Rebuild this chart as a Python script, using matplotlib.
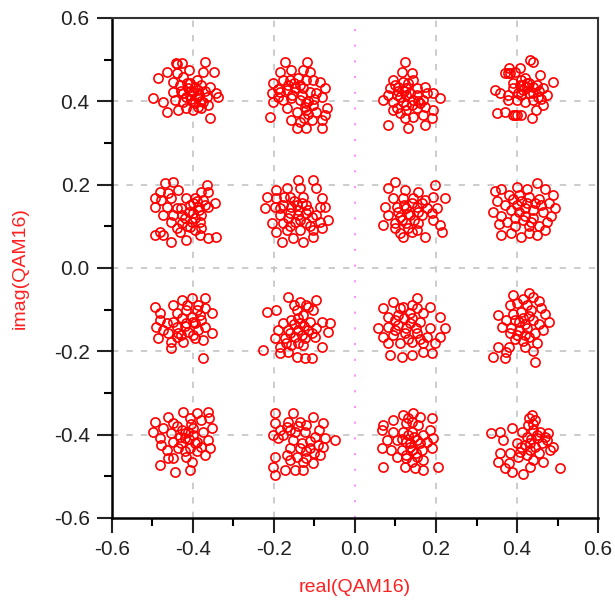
import matplotlib.pyplot as plt
import numpy as np

plt.rcParams['font.family'] = ['Liberation Sans', 'DejaVu Sans']
plt.rcParams['axes.unicode_minus'] = False

# QAM16 constellation samples (real, imag)
r1c1 = [(-0.486, 0.455), (-0.465, 0.471), (-0.442, 0.491), (-0.426, 0.491), (-0.371, 0.495), (-0.348, 0.471),
        (-0.375, 0.471), (-0.409, 0.475), (-0.440, 0.467), (-0.424, 0.459), (-0.449, 0.447), (-0.432, 0.439),
        (-0.408, 0.443), (-0.391, 0.451), (-0.379, 0.439), (-0.358, 0.435), (-0.342, 0.419), (-0.338, 0.411),
        (-0.498, 0.407), (-0.473, 0.399), (-0.445, 0.403), (-0.424, 0.419), (-0.408, 0.415), (-0.391, 0.411),
        (-0.366, 0.411), (-0.465, 0.375), (-0.436, 0.379), (-0.416, 0.383), (-0.399, 0.379), (-0.379, 0.383),
        (-0.362, 0.391), (-0.357, 0.361), (-0.424, 0.399), (-0.399, 0.399), (-0.387, 0.427), (-0.449, 0.423),
        (-0.412, 0.431), (-0.375, 0.399), (-0.399, 0.423), (-0.416, 0.411), (-0.387, 0.387),
        (-0.395, 0.435), (-0.405, 0.425), (-0.385, 0.415), (-0.415, 0.445), (-0.430, 0.425), (-0.370, 0.425),
        (-0.395, 0.395), (-0.440, 0.490), (-0.380, 0.400), (-0.405, 0.405)]
r1c2 = [(-0.173, 0.495), (-0.119, 0.495), (-0.185, 0.471), (-0.157, 0.475), (-0.128, 0.475), (-0.111, 0.471),
        (-0.202, 0.443), (-0.177, 0.451), (-0.161, 0.451), (-0.140, 0.455), (-0.120, 0.451), (-0.103, 0.451),
        (-0.087, 0.447), (-0.074, 0.431), (-0.206, 0.419), (-0.185, 0.423), (-0.169, 0.427), (-0.148, 0.431),
        (-0.128, 0.431), (-0.111, 0.423), (-0.095, 0.419), (-0.082, 0.411), (-0.202, 0.399), (-0.177, 0.403),
        (-0.157, 0.407), (-0.136, 0.403), (-0.120, 0.395), (-0.103, 0.391), (-0.070, 0.383), (-0.169, 0.383),
        (-0.144, 0.375), (-0.120, 0.379), (-0.095, 0.375), (-0.074, 0.367), (-0.210, 0.363), (-0.157, 0.355),
        (-0.136, 0.351), (-0.107, 0.355), (-0.082, 0.355), (-0.144, 0.335), (-0.120, 0.335), (-0.082, 0.335),
        (-0.189, 0.411), (-0.124, 0.387),
        (-0.165, 0.440), (-0.150, 0.445), (-0.135, 0.440), (-0.190, 0.430), (-0.155, 0.415), (-0.130, 0.415),
        (-0.115, 0.400), (-0.100, 0.405), (-0.125, 0.360), (-0.115, 0.370)]
r1c3 = [(0.123, 0.495), (0.115, 0.471), (0.140, 0.467), (0.095, 0.451), (0.119, 0.447), (0.144, 0.451),
        (0.086, 0.431), (0.107, 0.435), (0.127, 0.431), (0.152, 0.431), (0.173, 0.435), (0.082, 0.415),
        (0.103, 0.415), (0.127, 0.415), (0.152, 0.415), (0.177, 0.419), (0.193, 0.419), (0.070, 0.403),
        (0.095, 0.399), (0.119, 0.399), (0.144, 0.403), (0.169, 0.403), (0.210, 0.407), (0.103, 0.383),
        (0.127, 0.379), (0.152, 0.383), (0.173, 0.387), (0.193, 0.379), (0.123, 0.359), (0.144, 0.363),
        (0.169, 0.367), (0.189, 0.359), (0.082, 0.343), (0.132, 0.335), (0.173, 0.343), (0.111, 0.371),
        (0.095, 0.379),
        (0.120, 0.425), (0.135, 0.420), (0.110, 0.410), (0.140, 0.390), (0.160, 0.395), (0.125, 0.390),
        (0.105, 0.425), (0.130, 0.445), (0.100, 0.440), (0.155, 0.400)]
r1c4 = [(0.432, 0.499), (0.440, 0.495), (0.407, 0.479), (0.370, 0.467), (0.383, 0.467), (0.395, 0.471),
        (0.457, 0.463), (0.490, 0.447), (0.346, 0.427), (0.358, 0.419), (0.378, 0.415), (0.391, 0.431),
        (0.407, 0.439), (0.424, 0.443), (0.440, 0.435), (0.465, 0.431), (0.473, 0.415), (0.453, 0.411),
        (0.399, 0.403), (0.420, 0.399), (0.440, 0.403), (0.465, 0.391), (0.350, 0.371), (0.370, 0.375),
        (0.395, 0.367), (0.411, 0.367), (0.436, 0.359), (0.448, 0.379), (0.415, 0.427), (0.403, 0.419),
        (0.378, 0.403), (0.377, 0.467), (0.401, 0.367), (0.389, 0.367), (0.420, 0.455), (0.430, 0.420),
        (0.410, 0.450),
        (0.425, 0.435), (0.430, 0.445), (0.415, 0.440), (0.440, 0.420), (0.455, 0.425), (0.460, 0.405),
        (0.390, 0.445), (0.380, 0.480), (0.450, 0.440), (0.410, 0.415)]

r2c1 = [(-0.469, 0.203), (-0.449, 0.207), (-0.366, 0.199), (-0.482, 0.183), (-0.461, 0.179), (-0.436, 0.187),
        (-0.379, 0.183), (-0.362, 0.183), (-0.494, 0.167), (-0.478, 0.163), (-0.453, 0.167), (-0.416, 0.167),
        (-0.395, 0.167), (-0.375, 0.163), (-0.346, 0.155), (-0.494, 0.147), (-0.465, 0.147), (-0.440, 0.143),
        (-0.408, 0.151), (-0.387, 0.147), (-0.362, 0.147), (-0.473, 0.127), (-0.449, 0.127), (-0.428, 0.127),
        (-0.399, 0.131), (-0.379, 0.127), (-0.453, 0.111), (-0.428, 0.107), (-0.403, 0.111), (-0.383, 0.111),
        (-0.440, 0.095), (-0.408, 0.099), (-0.379, 0.095), (-0.494, 0.079), (-0.473, 0.079), (-0.453, 0.063),
        (-0.416, 0.067), (-0.383, 0.079), (-0.362, 0.071), (-0.342, 0.075), (-0.432, 0.087), (-0.482, 0.087),
        (-0.400, 0.155), (-0.390, 0.160), (-0.385, 0.140), (-0.410, 0.135), (-0.420, 0.120), (-0.395, 0.120),
        (-0.370, 0.150), (-0.430, 0.145), (-0.415, 0.100), (-0.395, 0.090)]
r2c2 = [(-0.140, 0.211), (-0.103, 0.211), (-0.194, 0.187), (-0.169, 0.191), (-0.136, 0.191), (-0.095, 0.191),
        (-0.218, 0.171), (-0.194, 0.167), (-0.161, 0.171), (-0.128, 0.171), (-0.082, 0.167), (-0.222, 0.143),
        (-0.198, 0.147), (-0.177, 0.151), (-0.144, 0.151), (-0.120, 0.151), (-0.087, 0.147), (-0.074, 0.147),
        (-0.185, 0.127), (-0.161, 0.131), (-0.140, 0.127), (-0.120, 0.131), (-0.095, 0.127), (-0.206, 0.107),
        (-0.177, 0.107), (-0.148, 0.111), (-0.120, 0.107), (-0.087, 0.111), (-0.066, 0.115), (-0.194, 0.087),
        (-0.169, 0.091), (-0.136, 0.091), (-0.103, 0.091), (-0.082, 0.095), (-0.181, 0.063), (-0.152, 0.071),
        (-0.128, 0.063), (-0.103, 0.075), (-0.157, 0.147), (-0.107, 0.123),
        (-0.150, 0.160), (-0.130, 0.155), (-0.165, 0.120), (-0.140, 0.140), (-0.115, 0.140), (-0.160, 0.100),
        (-0.110, 0.100), (-0.185, 0.145), (-0.135, 0.115), (-0.175, 0.170)]
r2c3 = [(0.099, 0.207), (0.197, 0.199), (0.082, 0.191), (0.123, 0.187), (0.156, 0.183), (0.193, 0.171),
        (0.222, 0.167), (0.095, 0.167), (0.119, 0.167), (0.144, 0.167), (0.173, 0.163), (0.074, 0.147),
        (0.103, 0.147), (0.127, 0.143), (0.152, 0.147), (0.177, 0.143), (0.202, 0.143), (0.082, 0.127),
        (0.111, 0.123), (0.136, 0.127), (0.165, 0.127), (0.189, 0.131), (0.070, 0.103), (0.099, 0.107),
        (0.127, 0.107), (0.156, 0.107), (0.210, 0.103), (0.111, 0.083), (0.140, 0.087), (0.173, 0.075),
        (0.214, 0.087), (0.119, 0.075), (0.152, 0.091), (0.193, 0.115),
        (0.120, 0.150), (0.140, 0.155), (0.105, 0.135), (0.130, 0.130), (0.155, 0.135), (0.115, 0.115),
        (0.145, 0.115), (0.130, 0.095), (0.100, 0.095), (0.165, 0.155)]
r2c4 = [(0.345, 0.185), (0.360, 0.190), (0.380, 0.175), (0.400, 0.195), (0.425, 0.190), (0.450, 0.205),
        (0.470, 0.190), (0.490, 0.175), (0.350, 0.160), (0.370, 0.150), (0.390, 0.165), (0.410, 0.160),
        (0.430, 0.170), (0.455, 0.165), (0.480, 0.155), (0.495, 0.145), (0.340, 0.135), (0.360, 0.125),
        (0.385, 0.140), (0.405, 0.135), (0.420, 0.145), (0.440, 0.140), (0.465, 0.135), (0.485, 0.125),
        (0.355, 0.105), (0.375, 0.110), (0.395, 0.100), (0.415, 0.115), (0.435, 0.110), (0.455, 0.100),
        (0.475, 0.110), (0.360, 0.080), (0.385, 0.085), (0.410, 0.075), (0.430, 0.085), (0.450, 0.080),
        (0.470, 0.090), (0.420, 0.125), (0.400, 0.150), (0.445, 0.155),
        (0.425, 0.155), (0.440, 0.120), (0.395, 0.120), (0.460, 0.150), (0.405, 0.175), (0.430, 0.100)]

r3c1 = [(-0.494, -0.093), (-0.449, -0.089), (-0.428, -0.077), (-0.403, -0.073), (-0.371, -0.073), (-0.482, -0.109),
        (-0.440, -0.109), (-0.416, -0.101), (-0.387, -0.089), (-0.383, -0.113), (-0.354, -0.109), (-0.490, -0.141),
        (-0.465, -0.133), (-0.440, -0.141), (-0.416, -0.133), (-0.395, -0.133), (-0.371, -0.141), (-0.354, -0.157),
        (-0.486, -0.169), (-0.461, -0.157), (-0.436, -0.157), (-0.412, -0.153), (-0.387, -0.149), (-0.453, -0.177),
        (-0.424, -0.177), (-0.395, -0.169), (-0.375, -0.173), (-0.453, -0.193), (-0.375, -0.217), (-0.473, -0.149),
        (-0.428, -0.121), (-0.403, -0.117), (-0.482, -0.125),
        (-0.400, -0.130), (-0.420, -0.140), (-0.380, -0.125), (-0.430, -0.160), (-0.400, -0.160), (-0.390, -0.100),
        (-0.450, -0.130), (-0.415, -0.090), (-0.370, -0.095), (-0.440, -0.165)]
r3c2 = [(-0.165, -0.069), (-0.095, -0.077), (-0.218, -0.105), (-0.194, -0.101), (-0.136, -0.081), (-0.115, -0.093),
        (-0.144, -0.101), (-0.103, -0.101), (-0.128, -0.113), (-0.157, -0.125), (-0.177, -0.133), (-0.136, -0.133),
        (-0.111, -0.129), (-0.082, -0.129), (-0.062, -0.133), (-0.189, -0.149), (-0.165, -0.149), (-0.140, -0.149),
        (-0.115, -0.149), (-0.095, -0.145), (-0.066, -0.153), (-0.198, -0.169), (-0.173, -0.169), (-0.148, -0.165),
        (-0.124, -0.169), (-0.099, -0.165), (-0.185, -0.189), (-0.157, -0.185), (-0.128, -0.185), (-0.082, -0.189),
        (-0.226, -0.197), (-0.185, -0.205), (-0.144, -0.213), (-0.124, -0.217), (-0.107, -0.217), (-0.165, -0.201),
        (-0.140, -0.120), (-0.125, -0.140), (-0.150, -0.135), (-0.160, -0.155), (-0.130, -0.160), (-0.105, -0.155),
        (-0.170, -0.180), (-0.140, -0.180), (-0.150, -0.090), (-0.120, -0.090)]
r3c3 = [(0.095, -0.081), (0.152, -0.073), (0.070, -0.097), (0.119, -0.093), (0.152, -0.097), (0.185, -0.093),
        (0.082, -0.117), (0.107, -0.113), (0.136, -0.109), (0.169, -0.109), (0.210, -0.117), (0.057, -0.145),
        (0.082, -0.141), (0.107, -0.137), (0.136, -0.133), (0.160, -0.129), (0.185, -0.145), (0.222, -0.145),
        (0.070, -0.165), (0.095, -0.161), (0.123, -0.157), (0.152, -0.157), (0.177, -0.165), (0.210, -0.165),
        (0.082, -0.181), (0.111, -0.181), (0.140, -0.177), (0.169, -0.181), (0.197, -0.181), (0.086, -0.209),
        (0.115, -0.213), (0.140, -0.209), (0.169, -0.201), (0.189, -0.205),
        (0.120, -0.120), (0.140, -0.120), (0.100, -0.125), (0.125, -0.145), (0.150, -0.145), (0.100, -0.150),
        (0.130, -0.170), (0.160, -0.170), (0.110, -0.095), (0.140, -0.090)]
r3c4 = [(0.430, -0.060), (0.415, -0.075), (0.440, -0.070), (0.455, -0.080), (0.400, -0.085), (0.425, -0.090),
        (0.391, -0.065), (0.383, -0.089), (0.410, -0.105), (0.435, -0.100), (0.460, -0.095), (0.470, -0.110),
        (0.354, -0.113), (0.374, -0.125), (0.395, -0.125), (0.415, -0.120), (0.440, -0.125), (0.455, -0.135),
        (0.480, -0.130), (0.362, -0.141), (0.385, -0.145), (0.405, -0.150), (0.425, -0.145), (0.445, -0.155),
        (0.465, -0.150), (0.383, -0.157), (0.395, -0.170), (0.415, -0.175), (0.430, -0.165), (0.450, -0.180),
        (0.440, -0.200), (0.445, -0.225), (0.354, -0.189), (0.341, -0.213), (0.374, -0.201), (0.380, -0.190),
        (0.370, -0.215), (0.420, -0.190),
        (0.420, -0.135), (0.405, -0.130), (0.430, -0.115), (0.400, -0.160), (0.420, -0.160), (0.390, -0.110)]

r4c1 = [(-0.494, -0.369), (-0.461, -0.357), (-0.424, -0.345), (-0.391, -0.349), (-0.362, -0.345), (-0.498, -0.393),
        (-0.473, -0.385), (-0.449, -0.373), (-0.408, -0.361), (-0.379, -0.365), (-0.354, -0.385), (-0.482, -0.409),
        (-0.453, -0.397), (-0.428, -0.389), (-0.399, -0.385), (-0.375, -0.393), (-0.478, -0.425), (-0.449, -0.417),
        (-0.420, -0.409), (-0.391, -0.417), (-0.362, -0.413), (-0.465, -0.437), (-0.436, -0.433), (-0.408, -0.433),
        (-0.379, -0.429), (-0.358, -0.433), (-0.461, -0.457), (-0.416, -0.453), (-0.371, -0.449), (-0.482, -0.473),
        (-0.445, -0.490), (-0.408, -0.485), (-0.403, -0.465), (-0.449, -0.457), (-0.432, -0.405), (-0.412, -0.393),
        (-0.410, -0.410), (-0.400, -0.400), (-0.420, -0.395), (-0.395, -0.420), (-0.405, -0.375), (-0.440, -0.380),
        (-0.420, -0.440), (-0.390, -0.440), (-0.430, -0.420), (-0.360, -0.360)]
r4c2 = [(-0.198, -0.349), (-0.152, -0.349), (-0.103, -0.357), (-0.198, -0.373), (-0.169, -0.381), (-0.136, -0.369),
        (-0.120, -0.377), (-0.078, -0.373), (-0.202, -0.401), (-0.177, -0.401), (-0.148, -0.393), (-0.124, -0.393),
        (-0.099, -0.405), (-0.074, -0.409), (-0.050, -0.413), (-0.189, -0.409), (-0.091, -0.425), (-0.161, -0.433),
        (-0.136, -0.433), (-0.111, -0.433), (-0.078, -0.429), (-0.169, -0.449), (-0.144, -0.453), (-0.120, -0.457),
        (-0.087, -0.449), (-0.198, -0.453), (-0.202, -0.477), (-0.173, -0.485), (-0.148, -0.485), (-0.128, -0.485),
        (-0.103, -0.469), (-0.198, -0.497), (-0.128, -0.465), (-0.152, -0.413),
        (-0.160, -0.390), (-0.140, -0.380), (-0.165, -0.370), (-0.130, -0.420), (-0.110, -0.415), (-0.120, -0.440),
        (-0.100, -0.445), (-0.160, -0.460), (-0.185, -0.390), (-0.090, -0.390)]
r4c3 = [(0.119, -0.353), (0.144, -0.349), (0.160, -0.357), (0.189, -0.361), (0.095, -0.365), (0.070, -0.377),
        (0.127, -0.373), (0.156, -0.377), (0.185, -0.389), (0.066, -0.389), (0.095, -0.393), (0.119, -0.393),
        (0.140, -0.393), (0.169, -0.401), (0.193, -0.409), (0.078, -0.413), (0.103, -0.413), (0.127, -0.417),
        (0.152, -0.413), (0.177, -0.417), (0.066, -0.433), (0.090, -0.437), (0.115, -0.437), (0.140, -0.437),
        (0.165, -0.437), (0.189, -0.433), (0.103, -0.453), (0.127, -0.457), (0.152, -0.453), (0.169, -0.461),
        (0.070, -0.477), (0.123, -0.477), (0.148, -0.481), (0.169, -0.485), (0.206, -0.477), (0.136, -0.429),
        (0.130, -0.360), (0.140, -0.370), (0.130, -0.400), (0.145, -0.405), (0.160, -0.420), (0.135, -0.420),
        (0.150, -0.445), (0.115, -0.410), (0.125, -0.450), (0.140, -0.465)]
r4c4 = [(0.436, -0.353), (0.444, -0.365), (0.428, -0.377), (0.440, -0.389), (0.457, -0.393), (0.477, -0.397),
        (0.337, -0.397), (0.358, -0.393), (0.387, -0.385), (0.412, -0.393), (0.366, -0.413), (0.424, -0.405),
        (0.449, -0.409), (0.473, -0.413), (0.399, -0.421), (0.432, -0.421), (0.461, -0.421), (0.490, -0.429),
        (0.358, -0.445), (0.383, -0.445), (0.407, -0.441), (0.432, -0.437), (0.482, -0.437), (0.354, -0.465),
        (0.379, -0.469), (0.440, -0.461), (0.465, -0.465), (0.432, -0.477), (0.387, -0.489), (0.416, -0.495),
        (0.506, -0.481), (0.403, -0.453), (0.370, -0.481),
        (0.440, -0.375), (0.450, -0.400), (0.435, -0.410), (0.420, -0.425), (0.445, -0.430), (0.470, -0.405),
        (0.410, -0.430), (0.455, -0.445), (0.425, -0.450), (0.430, -0.360)]

clusters = [r1c1, r1c2, r1c3, r1c4, r2c1, r2c2, r2c3, r2c4,
            r3c1, r3c2, r3c3, r3c4, r4c1, r4c2, r4c3, r4c4]
pts = np.array([p for c in clusters for p in c])

ticks = [-0.6, -0.4, -0.2, 0.0, 0.2, 0.4, 0.6]
tick_labels = ["-0.6", "-0.4", "-0.2", "0.0", "0.2", "0.4", "0.6"]

fig = plt.figure(figsize=(6.15, 6.04), dpi=100)
ax = fig.add_axes([0.182, 0.1424, 0.7904, 0.8278])

# grid: dashed grey, with magenta dotted line at real = 0
for v in [-0.4, -0.2, 0.2, 0.4]:
    ax.axvline(v, color='#c8c8c8', ls=(0, (3.5, 4.5)), lw=1.3, zorder=0)
for v in [-0.4, -0.2, 0.0, 0.2, 0.4]:
    ax.axhline(v, color='#c8c8c8', ls=(0, (3.5, 4.5)), lw=1.3, zorder=0)
ax.axvline(0.0, color='#ff88ff', ls=(0, (1.2, 7.5)), lw=1.3, zorder=0)

ax.plot(pts[:, 0], pts[:, 1], 'o', ms=6.6, mfc='none', mec='#ff0000', mew=1.2)

ax.set_xlim(-0.6, 0.6)
ax.set_ylim(-0.6, 0.6)
ax.set_xticks(ticks)
ax.set_xticklabels(tick_labels)
ax.set_yticks(ticks)
ax.set_yticklabels(tick_labels)
ax.set_xticks(np.arange(-0.5, 0.6, 0.2), minor=True)
ax.set_yticks(np.arange(-0.5, 0.6, 0.2), minor=True)
ax.tick_params(which='major', direction='out', length=11, width=1.5, labelsize=15,
               colors='#222222', pad=5)
ax.tick_params(which='minor', direction='out', length=5.5, width=1.5)
for s in ['left', 'bottom']:
    ax.spines[s].set_linewidth(1.8)
for s in ['top', 'right']:
    ax.spines[s].set_linewidth(1.5)
    ax.spines[s].set_color('#333333')

ax.set_xlabel("real(QAM16)", color='#ff2020', fontsize=14, labelpad=14)
ax.set_ylabel("imag(QAM16)", color='#ff2020', fontsize=14, labelpad=18)

fig.savefig("out.png", dpi=100)
